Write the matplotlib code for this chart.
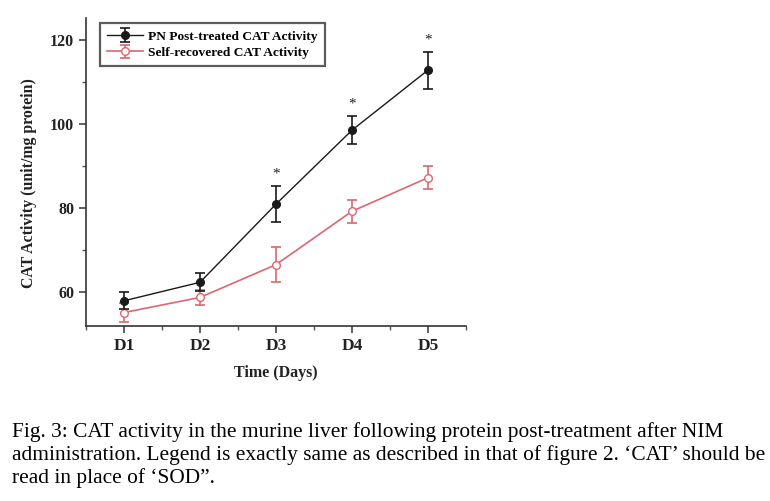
import matplotlib
matplotlib.use("Agg")
import matplotlib.pyplot as plt
from matplotlib.ticker import MultipleLocator

days = ["D1", "D2", "D3", "D4", "D5"]
pn_mean = [58.0, 62.4, 81.0, 98.6, 112.9]
pn_err = [2.0, 2.1, 4.2, 3.3, 4.4]
self_mean = [55.2, 58.8, 66.6, 79.3, 87.3]
self_err = [2.3, 1.8, 4.1, 2.8, 2.7]
star_days = [3, 4, 5]
yticks = [60, 80, 100, 120]
caption = [
    "Fig. 3: CAT activity in the murine liver following protein post-treatment after NIM",
    "administration. Legend is exactly same as described in that of figure 2. \u2018CAT\u2019 should be",
    "read in place of \u2018SOD\u201d.",
]

plt.rcParams['font.family'] = ['Liberation Serif', 'DejaVu Serif']

fig = plt.figure(figsize=(7.7, 5.01), dpi=100)
ax = fig.add_axes([86/770, 1-326/501, (466-86)/770, (326-18)/501])

x = list(range(1, len(days)+1))
black = '#1a1a1a'
red = '#dc6670'
ax.errorbar(x, pn_mean, yerr=pn_err, color=black, lw=1.0, marker='o', ms=5.5,
            mfc=black, mec=black, capsize=3.3, elinewidth=1.2, capthick=1.2,
            label='PN Post-treated CAT Activity', zorder=3)
ax.errorbar(x, self_mean, yerr=self_err, color=red, lw=1.2, marker='o', ms=5.5,
            mfc='white', mec=red, capsize=3.3, elinewidth=1.2, capthick=1.2,
            label='Self-recovered CAT Activity', zorder=2)

for d in star_days:
    i = d - 1
    ax.text(d, pn_mean[i] + pn_err[i] + 1.3, '*', ha='center', va='bottom',
            fontsize=11, color='#222222')

ax.set_xlim(0.5, 5.5)
ax.set_ylim(52, 125.3)
ax.set_xticks(x)
ax.set_xticklabels(days, fontsize=12.5, fontweight='bold')
ax.xaxis.set_minor_locator(MultipleLocator(0.5))
ax.set_yticks(yticks)
ax.yaxis.set_minor_locator(MultipleLocator(10))
ax.set_yticklabels([str(v) for v in yticks], fontsize=11.5, fontweight='bold')
ax.tick_params(axis='both', which='major', direction='out', length=5, width=1.1, colors='#333333', labelcolor='#222222')
ax.tick_params(axis='both', which='minor', direction='out', length=3, width=1.0, colors='#555555')
ax.spines['top'].set_visible(False)
ax.spines['right'].set_visible(False)
for s in ['left', 'bottom']:
    ax.spines[s].set_linewidth(1.2)
    ax.spines[s].set_color('#333333')

ax.set_xlabel('Time (Days)', fontsize=11.5, fontweight='bold', labelpad=8, color='#222222')
ax.set_ylabel('CAT Activity (unit/mg protein)', fontsize=11.4, fontweight='bold', color='#222222')
ax.yaxis.set_label_coords(-0.128, 0.464)

leg = ax.legend(loc='upper left', bbox_to_anchor=(0.037, 0.984), prop={'size': 9.6, 'weight': 'bold'},
                frameon=True, fancybox=False, handlelength=2.7, handletextpad=0.35,
                borderpad=0.55, labelspacing=0.3, borderaxespad=0)
leg.get_frame().set_edgecolor('#333333')
leg.get_frame().set_linewidth(1.6)

for i, (line, yc) in enumerate(zip(caption, [431.7, 455, 478])):
    fig.text(12/770, 1 - yc/501, line, fontsize=15.4, va='center', ha='left', color='black')

fig.savefig('out.png', dpi=100)
